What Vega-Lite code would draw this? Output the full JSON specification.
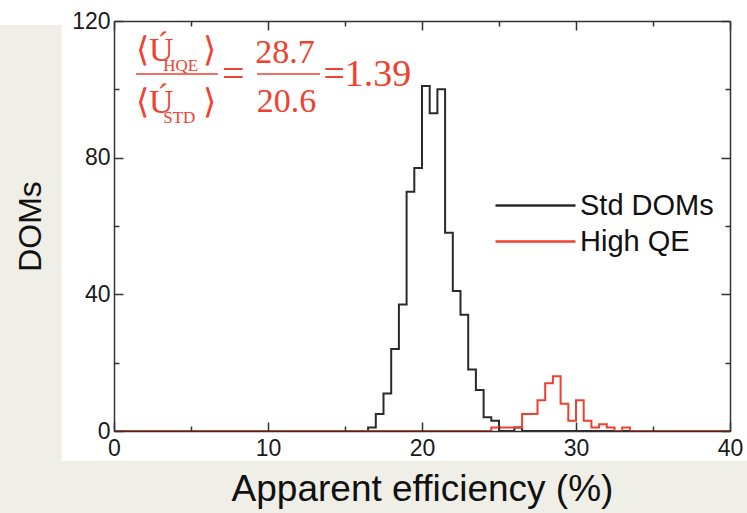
{
  "$schema": "https://vega.github.io/schema/vega-lite/v6.json",
  "width": 616,
  "height": 410,
  "autosize": {"type": "none"},
  "padding": {"left": 114, "top": 21, "right": 17, "bottom": 82},
  "background": "#efeee7",
  "config": {
    "view": {"stroke": null},
    "font": "Liberation Sans",
    "axis": {
      "zindex": 1,
      "grid": false,
      "domainColor": "#333333",
      "domainWidth": 1.5,
      "tickColor": "#333333",
      "tickWidth": 1.5,
      "labelFont": "Liberation Sans",
      "labelFontSize": 23,
      "labelColor": "#1a1a1a",
      "labelFlush": false,
      "labelOverlap": false,
      "titleFont": "Liberation Sans",
      "titleColor": "#111111",
      "titleFontWeight": "normal"
    }
  },
  "datasets": {
    "std": [
      {"eff": 0, "count": 0, "type": "Std DOMs"},
      {"eff": 16.5, "count": 1, "type": "Std DOMs"},
      {"eff": 17, "count": 5, "type": "Std DOMs"},
      {"eff": 17.5, "count": 11, "type": "Std DOMs"},
      {"eff": 18, "count": 24, "type": "Std DOMs"},
      {"eff": 18.5, "count": 37, "type": "Std DOMs"},
      {"eff": 19, "count": 70, "type": "Std DOMs"},
      {"eff": 19.5, "count": 77, "type": "Std DOMs"},
      {"eff": 20, "count": 101, "type": "Std DOMs"},
      {"eff": 20.5, "count": 93, "type": "Std DOMs"},
      {"eff": 21, "count": 100, "type": "Std DOMs"},
      {"eff": 21.5, "count": 58, "type": "Std DOMs"},
      {"eff": 22, "count": 41, "type": "Std DOMs"},
      {"eff": 22.5, "count": 34, "type": "Std DOMs"},
      {"eff": 23, "count": 18, "type": "Std DOMs"},
      {"eff": 23.5, "count": 12, "type": "Std DOMs"},
      {"eff": 24, "count": 4, "type": "Std DOMs"},
      {"eff": 24.5, "count": 3, "type": "Std DOMs"},
      {"eff": 25, "count": 0, "type": "Std DOMs"},
      {"eff": 25.5, "count": 0, "type": "Std DOMs"},
      {"eff": 26, "count": 1, "type": "Std DOMs"},
      {"eff": 26.5, "count": 0, "type": "Std DOMs"},
      {"eff": 40, "count": 0, "type": "Std DOMs"}
    ],
    "hqe": [
      {"eff": 0, "count": 0, "type": "High QE"},
      {"eff": 24.5, "count": 1, "type": "High QE"},
      {"eff": 25, "count": 1, "type": "High QE"},
      {"eff": 25.5, "count": 1, "type": "High QE"},
      {"eff": 26, "count": 1, "type": "High QE"},
      {"eff": 26.5, "count": 5, "type": "High QE"},
      {"eff": 27, "count": 5, "type": "High QE"},
      {"eff": 27.5, "count": 9, "type": "High QE"},
      {"eff": 28, "count": 14, "type": "High QE"},
      {"eff": 28.5, "count": 16, "type": "High QE"},
      {"eff": 29, "count": 8, "type": "High QE"},
      {"eff": 29.5, "count": 3, "type": "High QE"},
      {"eff": 30, "count": 9, "type": "High QE"},
      {"eff": 30.5, "count": 3, "type": "High QE"},
      {"eff": 31, "count": 1, "type": "High QE"},
      {"eff": 31.5, "count": 2, "type": "High QE"},
      {"eff": 32, "count": 1, "type": "High QE"},
      {"eff": 32.5, "count": 0, "type": "High QE"},
      {"eff": 33, "count": 1, "type": "High QE"},
      {"eff": 33.5, "count": 0, "type": "High QE"},
      {"eff": 40, "count": 0, "type": "High QE"}
    ]
  },
  "layer": [
    {
      "data": {"values": [{}]},
      "mark": {"type": "rect", "fill": "white", "clip": false},
      "encoding": {
        "x": {"datum": -3.4, "type": "quantitative", "scale": {"domain": [0, 40]}, "axis": null},
        "x2": {"datum": 41.2},
        "y": {"datum": -8.8, "type": "quantitative", "scale": {"domain": [0, 120]}, "axis": null},
        "y2": {"datum": 126.2}
      }
    },
    {
      "data": {"values": [{}]},
      "mark": {"type": "rect", "fill": "white", "clip": false},
      "encoding": {
        "x": {"datum": -7.5, "type": "quantitative", "axis": null},
        "x2": {"datum": -3.3},
        "y": {"datum": 118.8, "type": "quantitative", "axis": null},
        "y2": {"datum": 126.2}
      }
    },
    {
      "data": {"name": "std"},
      "mark": {"type": "line", "interpolate": "step-after", "strokeWidth": 2, "zindex": 2},
      "encoding": {
        "x": {
          "field": "eff", "type": "quantitative",
          "scale": {"domain": [0, 40]},
          "axis": {
            "orient": "bottom",
            "zindex": 1,
            "values": [0, 5, 10, 15, 20, 25, 30, 35, 40],
            "labelExpr": "datum.value % 10 === 0 ? datum.label : ''",
            "tickSize": {"condition": {"test": "datum.value % 10 === 0", "value": -9}, "value": -5},
            "labelPadding": 15,
            "title": "Apparent efficiency (%)",
            "titleFontSize": 37,
            "titlePadding": 7
          }
        },
        "y": {
          "field": "count", "type": "quantitative",
          "scale": {"domain": [0, 120]},
          "axis": {
            "orient": "left",
            "zindex": 1,
            "values": [0, 20, 40, 60, 80, 100, 120],
            "labelExpr": "datum.value % 40 === 0 ? datum.label : ''",
            "tickSize": {"condition": {"test": "datum.value % 40 === 0", "value": -9}, "value": -5},
            "labelPadding": 13,
            "title": "DOMs",
            "titleFontSize": 32,
            "titlePadding": 24
          }
        },
        "color": {
          "field": "type", "type": "nominal",
          "scale": {"domain": ["Std DOMs", "High QE"], "range": ["#2a2a2a", "#f0412f"]},
          "legend": {
            "title": null,
            "orient": "none",
            "legendX": 437,
            "legendY": 170,
            "symbolType": "M-7,0H1",
            "symbolSize": 400,
            "symbolStrokeWidth": 2.5,
            "labelFont": "Liberation Sans",
            "labelFontSize": 29,
            "labelColor": "#111111",
            "labelOffset": 0,
            "rowPadding": 6
          }
        }
      }
    },
    {
      "data": {"name": "hqe"},
      "mark": {"type": "line", "interpolate": "step-after", "strokeWidth": 2, "zindex": 3},
      "encoding": {
        "x": {"field": "eff", "type": "quantitative", "scale": {"domain": [0, 40]}, "axis": null},
        "y": {"field": "count", "type": "quantitative", "scale": {"domain": [0, 120]}, "axis": null},
        "color": {"field": "type", "type": "nominal"}
      }
    },
    {
      "data": {"values": [{}]},
      "mark": {"type": "rule", "color": "#f0412f", "strokeWidth": 1.5},
      "encoding": {
        "x": {
          "datum": 1.43, "type": "quantitative",
          "axis": {
            "orient": "top",
            "zindex": 1,
            "values": [0, 5, 10, 15, 20, 25, 30, 35, 40],
            "labels": false,
            "tickSize": {"condition": {"test": "datum.value % 10 === 0", "value": -9}, "value": -5},
            "title": null
          }
        },
        "x2": {"datum": 6.75},
        "y": {
          "datum": 104.5, "type": "quantitative",
          "axis": {
            "orient": "right",
            "zindex": 1,
            "values": [0, 20, 40, 60, 80, 100, 120],
            "labels": false,
            "tickSize": {"condition": {"test": "datum.value % 40 === 0", "value": -9}, "value": -5},
            "title": null
          }
        }
      }
    },
    {
      "data": {"values": [{}]},
      "mark": {"type": "rule", "color": "#f0412f", "strokeWidth": 1.5},
      "encoding": {
        "x": {"datum": 9.29, "type": "quantitative", "axis": null},
        "x2": {"datum": 13.38},
        "y": {"datum": 104.5, "type": "quantitative", "axis": null}
      }
    },
    {
      "data": {"values": [{}]},
      "mark": {"type": "text", "text": "⟨Ú", "font": "Liberation Serif", "fontSize": 34, "color": "#f0412f", "align": "left", "baseline": "alphabetic"},
      "encoding": {
        "x": {"datum": 1.43, "type": "quantitative", "axis": null},
        "y": {"datum": 108.3, "type": "quantitative", "axis": null}
      }
    },
    {
      "data": {"values": [{}]},
      "mark": {"type": "text", "text": "HQE", "font": "Liberation Serif", "fontSize": 17, "color": "#f0412f", "align": "left", "baseline": "alphabetic"},
      "encoding": {
        "x": {"datum": 3.2, "type": "quantitative", "axis": null},
        "y": {"datum": 105.4, "type": "quantitative", "axis": null}
      }
    },
    {
      "data": {"values": [{}]},
      "mark": {"type": "text", "text": "⟩", "font": "Liberation Serif", "fontSize": 34, "color": "#f0412f", "align": "left", "baseline": "alphabetic"},
      "encoding": {
        "x": {"datum": 5.75, "type": "quantitative", "axis": null},
        "y": {"datum": 108.3, "type": "quantitative", "axis": null}
      }
    },
    {
      "data": {"values": [{}]},
      "mark": {"type": "text", "text": "⟨Ú", "font": "Liberation Serif", "fontSize": 34, "color": "#f0412f", "align": "left", "baseline": "alphabetic"},
      "encoding": {
        "x": {"datum": 1.43, "type": "quantitative", "axis": null},
        "y": {"datum": 93.0, "type": "quantitative", "axis": null}
      }
    },
    {
      "data": {"values": [{}]},
      "mark": {"type": "text", "text": "STD", "font": "Liberation Serif", "fontSize": 17, "color": "#f0412f", "align": "left", "baseline": "alphabetic"},
      "encoding": {
        "x": {"datum": 3.2, "type": "quantitative", "axis": null},
        "y": {"datum": 90.2, "type": "quantitative", "axis": null}
      }
    },
    {
      "data": {"values": [{}]},
      "mark": {"type": "text", "text": "⟩", "font": "Liberation Serif", "fontSize": 34, "color": "#f0412f", "align": "left", "baseline": "alphabetic"},
      "encoding": {
        "x": {"datum": 5.75, "type": "quantitative", "axis": null},
        "y": {"datum": 93.0, "type": "quantitative", "axis": null}
      }
    },
    {
      "data": {"values": [{}]},
      "mark": {"type": "text", "text": "=", "font": "Liberation Serif", "fontSize": 40, "color": "#f0412f", "align": "center", "baseline": "alphabetic"},
      "encoding": {
        "x": {"datum": 7.75, "type": "quantitative", "axis": null},
        "y": {"datum": 100.8, "type": "quantitative", "axis": null}
      }
    },
    {
      "data": {"values": [{}]},
      "mark": {"type": "text", "text": "28.7", "font": "Liberation Serif", "fontSize": 34, "color": "#f0412f", "align": "center", "baseline": "alphabetic"},
      "encoding": {
        "x": {"datum": 11.1, "type": "quantitative", "axis": null},
        "y": {"datum": 107.8, "type": "quantitative", "axis": null}
      }
    },
    {
      "data": {"values": [{}]},
      "mark": {"type": "text", "text": "20.6", "font": "Liberation Serif", "fontSize": 34, "color": "#f0412f", "align": "center", "baseline": "alphabetic"},
      "encoding": {
        "x": {"datum": 11.2, "type": "quantitative", "axis": null},
        "y": {"datum": 93.4, "type": "quantitative", "axis": null}
      }
    },
    {
      "data": {"values": [{}]},
      "mark": {"type": "text", "text": "=1.39", "font": "Liberation Serif", "fontSize": 38, "color": "#f0412f", "align": "left", "baseline": "alphabetic"},
      "encoding": {
        "x": {"datum": 13.6, "type": "quantitative", "axis": null},
        "y": {"datum": 101.0, "type": "quantitative", "axis": null}
      }
    }
  ],
  "resolve": {"axis": {"x": "independent", "y": "independent"}}
}
